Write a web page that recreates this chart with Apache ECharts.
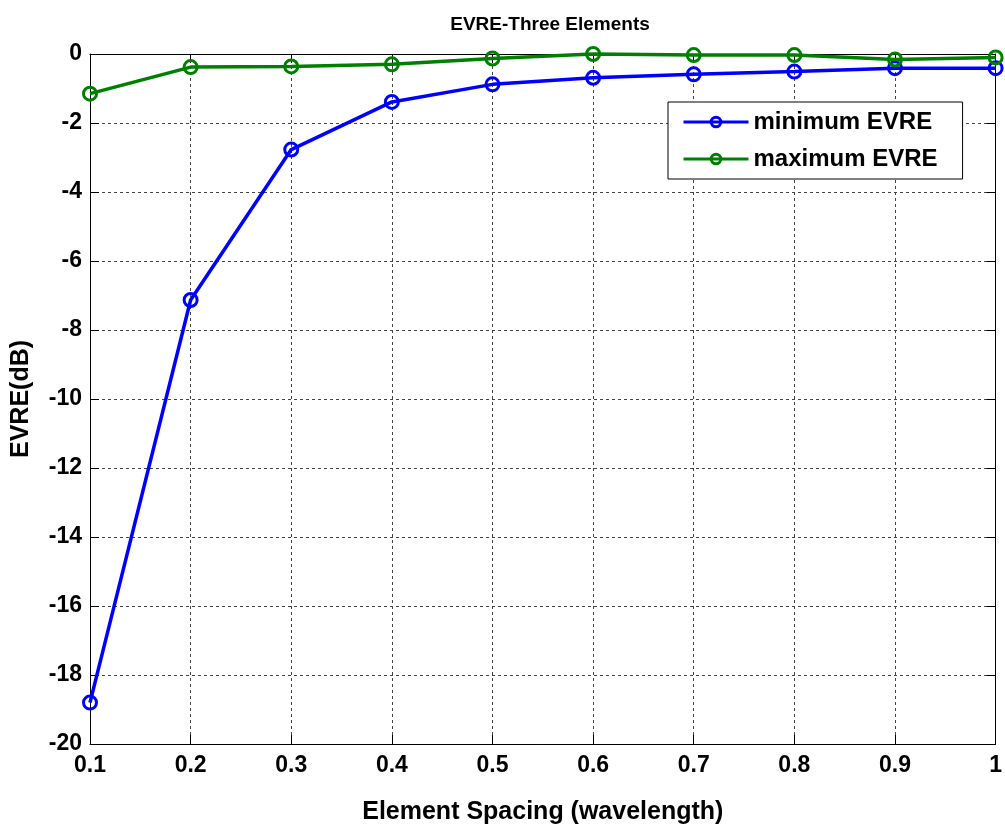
<!DOCTYPE html>
<html>
<head>
<meta charset="utf-8">
<title>EVRE-Three Elements</title>
<script src="https://cdn.jsdelivr.net/npm/echarts@6/dist/echarts.min.js"></script>
<style>
  html, body { margin: 0; padding: 0; background: #fff; }
  #chart { width: 1005px; height: 830px; }
</style>
</head>
<body>
<div id="chart"></div>
<script>
// Element spacing in wavelengths
const spacing = [0.1, 0.2, 0.3, 0.4, 0.5, 0.6, 0.7, 0.8, 0.9, 1.0];
// EVRE in dB for the three-element array
const minEVRE = [-18.8, -7.13, -2.77, -1.39, -0.88, -0.69, -0.59, -0.51, -0.41, -0.41];
const maxEVRE = [-1.15, -0.38, -0.36, -0.30, -0.13, 0.0, -0.03, -0.03, -0.16, -0.10];
const seriesNames = ['minimum EVRE', 'maximum EVRE'];
const seriesColors = ['#0000ff', '#008000'];

const FONT = '"Liberation Sans", Arial, Helvetica, sans-serif';

const pairs = (xs, ys) => xs.map((x, i) => [x, ys[i]]);

const chart = echarts.init(document.getElementById('chart'), null, { renderer: 'canvas' });

const gridLine = { show: true, lineStyle: { color: '#444', width: 1, type: [3, 3] } };
const tickInside = { show: true, inside: true, length: 9, lineStyle: { color: '#000', width: 1 } };
const labelStyle = { color: '#000', fontFamily: FONT, fontWeight: 'bold', fontSize: 23 };

chart.setOption({
  backgroundColor: '#fff',
  animation: false,
  title: {
    text: 'EVRE-Three Elements',
    left: 545, top: 10, textAlign: 'center',
    textStyle: { color: '#000', fontFamily: FONT, fontWeight: 'bold', fontSize: 19 }
  },
  legend: {
    orient: 'vertical',
    left: 668, top: 102,
    backgroundColor: '#fff',
    borderColor: '#000', borderWidth: 1,
    padding: [7, 25, 7, 14],
    itemGap: 11,
    itemWidth: 65, itemHeight: 12,
    lineStyle: { width: 3 },
    itemStyle: { color: 'rgba(0,0,0,0)', borderWidth: 3 },
    textStyle: { color: '#000', fontFamily: FONT, fontWeight: 'bold', fontSize: 24, lineHeight: 26 },
    data: seriesNames
  },
  grid: { left: 90, right: 9, top: 54, bottom: 86 },
  xAxis: [{
    type: 'value', min: 0.1, max: 1, interval: 0.1,
    name: 'Element Spacing (wavelength)', nameLocation: 'middle', nameGap: 56,
    nameTextStyle: { color: '#000', fontFamily: FONT, fontWeight: 'bold', fontSize: 25 },
    axisLine: { show: true, onZero: false, lineStyle: { color: '#000', width: 1 } },
    axisTick: tickInside,
    axisLabel: Object.assign({ margin: 10, formatter: v => String(+v.toFixed(1)) }, labelStyle),
    splitLine: gridLine
  }, {
    type: 'value', position: 'top', min: 0.1, max: 1, interval: 0.1,
    axisLine: { show: true, onZero: false, lineStyle: { color: '#000', width: 1 } },
    axisTick: tickInside, axisLabel: { show: false }, splitLine: { show: false }
  }],
  yAxis: [{
    type: 'value', min: -20, max: 0, interval: 2,
    name: 'EVRE(dB)', nameLocation: 'middle', nameGap: 56,
    nameTextStyle: { color: '#000', fontFamily: FONT, fontWeight: 'bold', fontSize: 25 },
    axisLine: { show: true, onZero: false, lineStyle: { color: '#000', width: 1 } },
    axisTick: tickInside,
    axisLabel: Object.assign({ margin: 8 }, labelStyle),
    splitLine: gridLine
  }, {
    type: 'value', position: 'right', min: -20, max: 0, interval: 2,
    axisLine: { show: true, onZero: false, lineStyle: { color: '#000', width: 1 } },
    axisTick: tickInside, axisLabel: { show: false }, splitLine: { show: false }
  }],
  series: [minEVRE, maxEVRE].map((vals, i) => ({
    name: seriesNames[i],
    type: 'line',
    data: pairs(spacing, vals),
    symbol: 'circle',
    symbolSize: 13,
    showAllSymbol: true,
    clip: false,
    color: seriesColors[i],
    lineStyle: { color: seriesColors[i], width: 3.5 },
    itemStyle: { color: 'rgba(0,0,0,0)', borderColor: seriesColors[i], borderWidth: 3 },
    emphasis: { disabled: true },
    z: 3 + i
  }))
});
</script>
</body>
</html>
